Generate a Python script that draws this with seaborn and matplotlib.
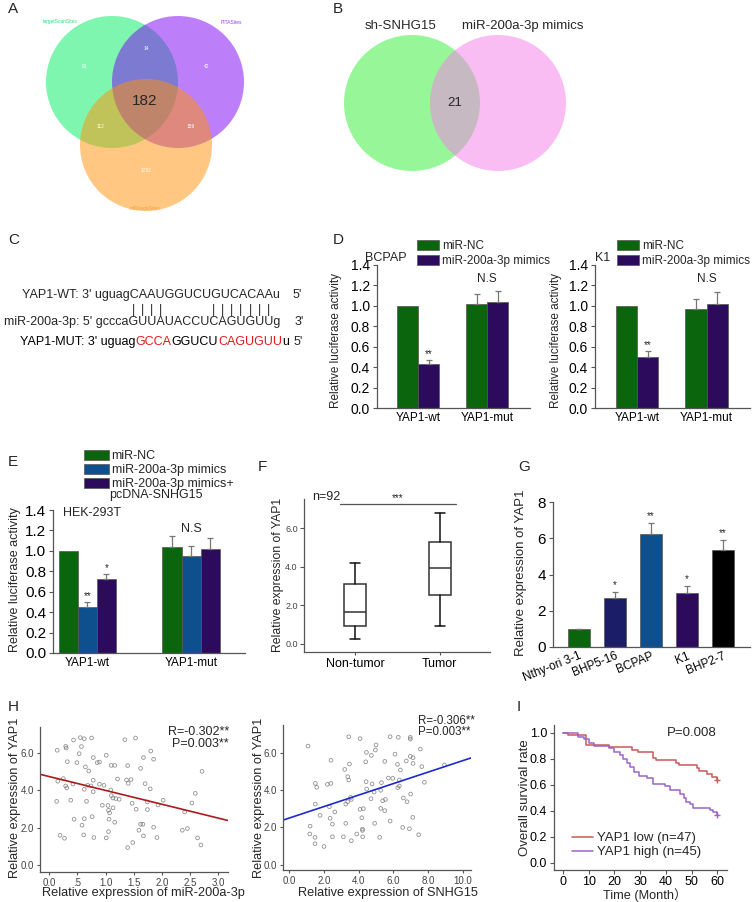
import numpy as np
import pandas as pd
import matplotlib
matplotlib.use("Agg")
import matplotlib.pyplot as plt
from matplotlib.patches import Circle, Patch
from matplotlib.lines import Line2D
import seaborn as sns

sns.set_theme(style="ticks")
plt.rcParams['font.family'] = ['Liberation Sans', 'Noto Sans CJK SC', 'DejaVu Sans']

W, H = 756, 902

# ---------------- data ----------------
# A: three-set venn (A only, B only, C only, AB, AC, BC, ABC)
venn_a_names = ["targetScanSites", "PITASites", "miRandaSites"]
venn_a_counts = [61, 42, 1252, 14, 112, 159, 182]
# B: two-set venn
venn_b_names = ["sh-SNHG15", "miR-200a-3p mimics"]
venn_b_overlap = 21

# C: binding sites
seq_wt = "YAP1-WT: 3' uguagCAAUGGUCUGUCACAAu"
seq_mir_prefix = "miR-200a-3p: 5' gccca"
seq_mir_core = "GUUAUACCUCAGUGUU"
seq_mir_suffix = "g"
seq_mut_parts = [("YAP1-MUT: 3' uguag", "black"), ("GCCA", "#e01b1b"), ("GGUCU", "black"),
                 ("CAGUGUU", "#e01b1b"), ("u", "black")]
pair_idx = [0, 1, 2, 3, 9, 10, 11, 12, 13, 14, 15]

# D: luciferase, BCPAP and K1
d_groups = ["YAP1-wt", "YAP1-mut"]
d_series = ["miR-NC", "miR-200a-3p mimics"]
d_bcpap_mean = [[1.0, 1.02], [0.43, 1.04]]
d_bcpap_err = [[0.0, 0.10], [0.04, 0.11]]
d_k1_mean = [[1.0, 0.97], [0.50, 1.02]]
d_k1_err = [[0.0, 0.10], [0.06, 0.12]]
d_stars = [["", ""], ["**", ""]]

# E: luciferase, HEK-293T
e_series = ["miR-NC", "miR-200a-3p mimics", "miR-200a-3p mimics+"]
e_series_extra = "pcDNA-SNHG15"
e_mean = [[1.0, 1.04], [0.45, 0.95], [0.72, 1.02]]
e_err = [[0.0, 0.11], [0.05, 0.10], [0.05, 0.11]]
e_stars = [["", ""], ["**", ""], ["*", ""]]

# F: box plot stats
f_groups = ["Non-tumor", "Tumor"]
f_whislo = [0.27, 0.94]
f_q1 = [0.92, 2.55]
f_med = [1.65, 3.97]
f_q3 = [3.12, 5.32]
f_whishi = [4.20, 6.80]

# G: cell lines
g_cells = ["Nthy-ori 3-1", "BHP5-16", "BCPAP", "K1", "BHP2-7"]
g_mean = [1.0, 2.72, 6.22, 3.00, 5.33]
g_err = [0.0, 0.32, 0.60, 0.36, 0.57]
g_stars = ["", "*", "**", "*", "**"]

# H: correlations
h1_mir = [0.14, 0.29, 0.30, 0.43, 0.55, 0.62, 0.75, 1.34, 1.53, 0.53, 0.57, 0.32, 0.49, 0.78, 1.01,
          0.85, 0.89, 0.64, 0.70, 1.10, 1.16, 1.39, 1.62, 1.67, 1.80, 1.85, 0.15, 0.25, 0.29, 0.31,
          0.42, 0.62, 0.68, 0.78, 0.78, 0.74, 0.89, 0.97, 1.09, 1.21, 1.37, 1.45, 1.40, 1.70, 1.79,
          2.71, 0.13, 0.38, 0.66, 0.94, 1.04, 1.10, 1.13, 1.18, 1.24, 1.13, 1.05, 1.07, 1.47, 1.54,
          1.74, 1.74, 1.93, 2.02, 2.40, 2.53, 2.59, 0.44, 0.62, 0.76, 0.58, 0.61, 0.79, 1.01, 1.06,
          1.16, 1.05, 0.19, 0.27, 1.39, 1.48, 1.62, 1.66, 1.59, 1.67, 1.85, 1.91, 2.36, 2.45, 2.63, 2.69]
h1_yap = [6.15, 6.36, 6.27, 6.70, 6.83, 6.77, 6.81, 6.72, 6.81, 5.97, 6.35, 5.54, 5.49, 5.76, 5.88,
          5.49, 5.52, 5.26, 5.04, 5.34, 5.34, 5.33, 5.18, 5.76, 6.11, 5.67, 4.49, 4.63, 4.24, 4.13,
          4.34, 4.06, 4.27, 4.54, 3.93, 4.24, 4.33, 4.27, 4.02, 4.61, 4.56, 4.58, 4.38, 4.36, 4.08,
          5.02, 3.41, 3.47, 3.41, 3.20, 3.19, 3.72, 3.59, 3.56, 3.52, 3.06, 2.93, 2.79, 3.31, 2.99,
          3.38, 2.97, 3.22, 3.47, 2.84, 3.32, 3.84, 2.45, 2.48, 2.59, 2.13, 1.61, 1.47, 1.45, 2.45,
          2.29, 1.79, 1.59, 1.43, 0.93, 1.20, 2.18, 2.18, 1.86, 1.56, 2.02, 1.47, 1.86, 1.95, 1.45, 1.07]
h2_snhg = [1.09, 3.43, 4.08, 5.00, 5.81, 6.28, 6.97, 6.97, 4.45, 4.73, 4.96, 2.41, 3.20, 3.47, 3.37,
           3.43, 4.41, 5.50, 6.09, 6.23, 6.40, 6.74, 6.97, 7.13, 7.13, 7.55, 7.63, 7.78, 8.93, 1.51,
           1.59, 2.20, 2.40, 1.51, 1.78, 2.32, 2.63, 2.36, 2.49, 1.21, 1.19, 1.49, 1.49, 2.01, 2.49,
           3.12, 3.26, 3.54, 3.58, 3.37, 3.26, 3.58, 3.89, 4.08, 4.27, 4.18, 4.22, 4.22, 4.23, 4.43,
           4.46, 4.71, 4.89, 4.77, 5.31, 5.27, 5.38, 5.54, 5.27, 5.50, 4.92, 5.21, 5.71, 5.96, 6.25,
           6.34, 6.34, 6.57, 6.78, 6.99, 7.11, 6.53, 6.92, 5.81, 7.45]
h2_yap = [6.35, 6.85, 6.75, 6.41, 6.85, 6.82, 6.82, 6.73, 6.01, 5.85, 6.14, 5.59, 5.10, 5.39, 4.71,
          4.53, 5.51, 5.53, 5.92, 5.37, 5.07, 5.55, 5.80, 5.42, 5.73, 6.19, 5.25, 4.41, 5.34, 4.35,
          4.14, 4.30, 4.35, 3.24, 2.64, 3.10, 2.82, 2.48, 2.17, 2.06, 1.64, 1.46, 1.12, 0.97, 1.49,
          1.49, 2.21, 3.60, 3.49, 3.37, 3.24, 1.28, 1.64, 2.96, 3.00, 2.51, 1.90, 1.83, 1.49, 4.44,
          4.05, 3.53, 3.89, 4.32, 4.39, 3.98, 3.42, 3.49, 3.01, 2.89, 2.21, 1.46, 4.64, 4.62, 4.12,
          4.21, 4.53, 3.57, 3.37, 3.78, 2.53, 1.99, 1.92, 2.33, 1.60]

# I: Kaplan-Meier
km_low_t = [0, 2, 9, 18, 27, 29, 35, 36, 44, 45, 52, 53, 56, 58, 60]
km_low_s = [1.0, 0.98, 0.91, 0.89, 0.87, 0.85, 0.81, 0.79, 0.77, 0.75, 0.73, 0.71, 0.68, 0.66, 0.64]
km_high_t = [0, 6, 8, 10, 12, 18, 20, 22, 23.5, 25, 26, 27.5, 29.5, 32.5, 35, 39.5, 41.5, 45.5,
             47, 48, 49.5, 50.5, 57, 58.5, 60]
km_high_s = [1.0, 0.97, 0.95, 0.92, 0.90, 0.88, 0.85, 0.83, 0.80, 0.77, 0.74, 0.70, 0.67, 0.65,
             0.61, 0.59, 0.56, 0.53, 0.50, 0.47, 0.45, 0.42, 0.41, 0.39, 0.37]

GREEN = "#0b650d"
PURPLE = "#2c0b5c"
BLUE = "#0e4f8e"
NAVY = "#1b1e66"
EDGE = "#555555"

fig = plt.figure(figsize=(W / 100, H / 100), dpi=100)
renderer = fig.canvas.get_renderer()


def axes_px(x0, y0, x1, y1):
    return fig.add_axes([x0 / W, 1 - y1 / H, (x1 - x0) / W, (y1 - y0) / H])


def text_px(x, y, s, **kw):
    kw.setdefault("va", "center")
    return fig.text(x / W, 1 - y / H, s, **kw)


def text_width(s, size):
    t = fig.text(0, 0, s, fontsize=size)
    w = t.get_window_extent(renderer).width
    t.remove()
    return w


def style_axis(ax, size, labelcolor="black"):
    sns.despine(ax=ax)
    for sp in ("left", "bottom"):
        ax.spines[sp].set_color(EDGE)
        ax.spines[sp].set_linewidth(0.9)
    ax.tick_params(labelsize=size, colors=EDGE, labelcolor=labelcolor, length=3, width=0.8, pad=2)
    ax.set_xlabel("")
    ax.set_ylabel("")


def grouped_bars(ax, groups, series, means, errs, stars, colors, width):
    df = pd.DataFrame({
        "group": [g for s in series for g in groups],
        "series": [s for s in series for g in groups],
        "value": [v for row in means for v in row],
    })
    sns.barplot(data=df, x="group", y="value", hue="series", palette=colors, width=width,
                saturation=1, errorbar=None, edgecolor=EDGE, linewidth=0.5, legend=False, ax=ax)
    for cont, m_row, e_row, s_row in zip(ax.containers, means, errs, stars):
        for bar, m, e, st in zip(cont, m_row, e_row, s_row):
            xc = bar.get_x() + bar.get_width() / 2
            if e > 0:
                ax.errorbar(xc, m, yerr=[[0], [e]], fmt="none", ecolor="#777777",
                            elinewidth=0.9, capsize=2.5, capthick=0.9)
            if st:
                ax.text(xc, m + e + 0.01, st, ha="center", va="bottom", fontsize=7)


# ---------------- panel labels ----------------
for lab, (x, y) in zip("ABCDEFGHI", [(8, 9), (333, 9), (8, 240), (333, 240), (8, 462),
                                       (258, 467), (518, 467), (8, 707), (517, 707)]):
    text_px(x, y, lab, fontsize=11, ha="left")

# ---------------- A ----------------
ax_a = axes_px(0, 0, 300, 230)
ax_a.set_xlim(0, 300)
ax_a.set_ylim(230, 0)
ax_a.set_axis_off()
for (cx, cy), col in zip([(112, 82), (178, 82), (146, 145)], ["#01ef63", "#7d00f5", "#ff9105"]):
    ax_a.add_patch(Circle((cx, cy), 66, color=col, alpha=0.5, lw=0))
for name, (x, y), col in zip(venn_a_names, [(60, 22), (231, 22), (145, 208)],
                             ["#2ee07a", "#9b3cf0", "#f0a040"]):
    ax_a.text(x, y, name, fontsize=3.5, color=col, ha="center", va="center")
for n, (x, y) in zip(venn_a_counts[:6], [(84, 66), (207, 66), (146, 170), (146, 49), (101, 127), (191, 127)]):
    ax_a.text(x, y, str(n), fontsize=3.5, color="white", ha="center", va="center")
ax_a.text(145, 101, str(venn_a_counts[6]), fontsize=11, ha="center", va="center")

# ---------------- B ----------------
ax_b = axes_px(330, 0, 630, 230)
ax_b.set_xlim(330, 630)
ax_b.set_ylim(230, 0)
ax_b.set_axis_off()
ax_b.add_patch(Circle((412, 103), 68, color="#31ef31", alpha=0.5, lw=0))
ax_b.add_patch(Circle((498, 103), 68, color="#f57deb", alpha=0.5, lw=0))
ax_b.text(401, 26, venn_b_names[0], fontsize=9.5, ha="center", va="center")
ax_b.text(523, 26, venn_b_names[1], fontsize=9.5, ha="center", va="center")
ax_b.text(455, 103, str(venn_b_overlap), fontsize=9.5, ha="center", va="center")

# ---------------- C ----------------
seq_size = 9.0
text_px(22, 295, seq_wt, fontsize=seq_size, ha="left")
text_px(293, 295, "5'", fontsize=seq_size, ha="left")
text_px(4, 322, seq_mir_prefix + seq_mir_core + seq_mir_suffix, fontsize=seq_size, ha="left")
text_px(295, 322, "3'", fontsize=seq_size, ha="left")
for i in pair_idx:
    w0 = text_width(seq_mir_prefix + seq_mir_core[:i], seq_size)
    w1 = text_width(seq_mir_prefix + seq_mir_core[:i + 1], seq_size)
    text_px(4 + (w0 + w1) / 2, 310, "|", fontsize=seq_size, ha="center")
xr = 20
for s, c in seq_mut_parts:
    t = text_px(xr, 342, s, fontsize=seq_size, ha="left", color=c)
    xr += t.get_window_extent(renderer).width
text_px(xr + 5, 342, "5'", fontsize=seq_size, ha="left")

# ---------------- D ----------------
for (x0, x1), mean, err, cell, cell_x, leg_x, ylab_x in [
        ((377, 530), d_bcpap_mean, d_bcpap_err, "BCPAP", 386, 417, 336),
        ((595, 750), d_k1_mean, d_k1_err, "K1", 603, 617, 556)]:
    ax = axes_px(x0, 265, x1, 408)
    grouped_bars(ax, d_groups, d_series, mean, err, d_stars, [GREEN, PURPLE], 0.61)
    ax.set_ylim(0, 1.4)
    ax.set_xlim(-0.6, 1.62)
    ax.set_yticks(np.arange(0, 1.41, 0.2))
    ax.set_yticklabels([f"{v:.1f}" for v in np.arange(0, 1.41, 0.2)])
    style_axis(ax, 10)
    ax.tick_params(axis="x", length=0, labelsize=8.5, pad=3)
    ax.text(1, 1.2, "N.S", ha="center", va="bottom", fontsize=8.5)
    text_px(cell_x, 258, cell, fontsize=9, ha="center")
    text_px(ylab_x, 340, "Relative luciferase activity", fontsize=8.5, rotation=90, ha="center")
    ax.legend(handles=[Patch(facecolor=c, edgecolor=EDGE, lw=0.5) for c in [GREEN, PURPLE]],
              labels=d_series, loc="upper left", bbox_to_anchor=(leg_x / W, 1 - 240 / H),
              bbox_transform=fig.transFigure, frameon=False, fontsize=8.5, borderpad=0,
              borderaxespad=0, handlelength=1.9, handleheight=0.9, handletextpad=0.2,
              labelspacing=0.25)

# ---------------- E ----------------
ax_e = axes_px(53, 510, 245, 653)
grouped_bars(ax_e, d_groups, e_series, e_mean, e_err, e_stars, [GREEN, BLUE, PURPLE], 0.55)
ax_e.set_ylim(0, 1.4)
ax_e.set_xlim(-0.33, 1.52)
ax_e.set_yticks(np.arange(0, 1.41, 0.2))
ax_e.set_yticklabels([f"{v:.1f}" for v in np.arange(0, 1.41, 0.2)])
style_axis(ax_e, 11)
ax_e.tick_params(axis="x", length=0, labelsize=8.5, pad=3)
ax_e.text(1, 1.16, "N.S", ha="center", va="bottom", fontsize=9)
text_px(63, 513, "HEK-293T", fontsize=9, ha="left")
text_px(15, 580, "Relative luciferase activity", fontsize=9, rotation=90, ha="center")
ax_e.legend(handles=[Patch(facecolor=c, edgecolor=EDGE, lw=0.5) for c in [GREEN, BLUE, PURPLE]],
            labels=e_series, loc="upper left", bbox_to_anchor=(84 / W, 1 - 450 / H),
            bbox_transform=fig.transFigure, frameon=False, fontsize=9, borderpad=0,
            borderaxespad=0, handlelength=2.0, handleheight=0.85, handletextpad=0.2,
            labelspacing=0.12)
text_px(109, 495, e_series_extra, fontsize=9, ha="left")

# ---------------- F ----------------
ax_f = axes_px(304, 499, 490, 652)
stats = [dict(med=m, q1=a, q3=b, whislo=lo, whishi=hi, fliers=[], label=g)
         for g, lo, a, m, b, hi in zip(f_groups, f_whislo, f_q1, f_med, f_q3, f_whishi)]
ax_f.bxp(stats, positions=[0, 1], widths=0.25, patch_artist=True, showfliers=False,
         boxprops=dict(facecolor="white", edgecolor="#333333", lw=1.1),
         medianprops=dict(color="#333333", lw=1.1),
         whiskerprops=dict(color="#111111", lw=1.1), capprops=dict(color="#111111", lw=1.1))
ax_f.set_xlim(-0.6, 1.59)
ax_f.set_ylim(-0.42, 7.53)
ax_f.set_yticks([0, 2, 4, 6])
ax_f.set_yticklabels(["0.0", "2.0", "4.0", "6.0"])
style_axis(ax_f, 6.5, labelcolor="#444444")
ax_f.tick_params(axis="y", pad=1.5)
ax_f.tick_params(axis="x", labelsize=9, labelcolor="black", length=2)
ax_f.plot([-0.18, 1.19], [7.27, 7.27], color="#555555", lw=0.9, clip_on=False)
ax_f.text(0.5, 7.3, "***", ha="center", va="bottom", fontsize=7)
text_px(312, 497, "n=92", fontsize=9, ha="left")
text_px(278, 575, "Relative expression of YAP1", fontsize=8.8, rotation=90, ha="center")

# ---------------- G ----------------
ax_g = axes_px(553, 502, 750, 647)
sns.barplot(x=g_cells, y=g_mean, hue=g_cells, palette=["#0b650d", NAVY, BLUE, PURPLE, "#000000"],
            width=0.6, saturation=1, errorbar=None, edgecolor=EDGE, linewidth=0.5,
            legend=False, ax=ax_g)
ax_g.errorbar(np.arange(len(g_cells)), g_mean, yerr=[np.zeros(len(g_err)), g_err], fmt="none",
              ecolor="#777777", elinewidth=0.9, capsize=2.5, capthick=0.9)
for i, (m, e, st) in enumerate(zip(g_mean, g_err, g_stars)):
    if st:
        ax_g.text(i, m + e + 0.1, st, ha="center", va="bottom", fontsize=7)
ax_g.set_ylim(0, 8)
ax_g.set_xlim(-0.72, 4.75)
ax_g.set_yticks([0, 2, 4, 6, 8])
style_axis(ax_g, 11)
ax_g.tick_params(axis="x", length=0, labelsize=8.5, pad=2)
plt.setp(ax_g.get_xticklabels(), rotation=22, ha="right", rotation_mode="anchor")
text_px(521, 573, "Relative expression of YAP1", fontsize=9.5, rotation=90, ha="center")

# ---------------- H ----------------
for (x0, y0, x1, y1), xs, ys, xlim, ylim, line_col, xt, xtl, xlab, xlab_x, ylab_x in [
        ((40, 727, 228, 872), h1_mir, h1_yap, (-0.165, 3.17), (-0.38, 7.4), "#a81c1c",
         [0, 0.5, 1, 1.5, 2, 2.5, 3], ["0.0", ".5", "1.0", "1.5", "2.0", "2.5", "3.0"],
         "Relative expression of miR-200a-3p", 143, 15),
        ((283, 725, 471, 870), h2_snhg, h2_yap, (-0.35, 10.46), (-0.29, 7.48), "#1c2ad0",
         [0, 2, 4, 6, 8, 10], ["0.0", "2.0", "4.0", "6.0", "8.0", "10.0"],
         "Relative expression of SNHG15", 388, 259)]:
    ax = axes_px(x0, y0, x1, y1)
    ax.set_xlim(*xlim)
    ax.set_ylim(*ylim)
    sns.regplot(x=xs, y=ys, ax=ax, ci=None, truncate=False, color="#777777",
                scatter_kws=dict(s=7, facecolors="none", edgecolors="#777777", linewidths=0.6),
                line_kws=dict(color=line_col, lw=1.2))
    ax.set_xticks(xt)
    ax.set_xticklabels(xtl)
    ax.set_yticks([0, 2, 4, 6])
    ax.set_yticklabels(["0.0", "2.0", "4.0", "6.0"])
    style_axis(ax, 7, labelcolor="#444444")
    ax.tick_params(length=2.5)
    text_px(xlab_x, 893, xlab, fontsize=9.2, ha="center")
    text_px(ylab_x, 798, "Relative expression of YAP1", fontsize=9.2, rotation=90, ha="center")

text_px(229, 732, "R=-0.302**", fontsize=9, ha="right")
text_px(229, 744, "P=0.003**", fontsize=9, ha="right")
text_px(418, 721, "R=-0.306**", fontsize=8.3, ha="left")
text_px(418, 732, "P=0.003**", fontsize=8.3, ha="left")

# ---------------- I ----------------
ax_i = axes_px(554, 725, 727, 870)
LOW_C, HIGH_C = "#c8585a", "#9b64c8"
ax_i.step(km_low_t, km_low_s, where="post", color=LOW_C, lw=1.1)
ax_i.step(km_high_t, km_high_s, where="post", color=HIGH_C, lw=1.1)
ax_i.plot(km_low_t[-1], km_low_s[-1], "+", color=LOW_C, ms=5, mew=1)
ax_i.plot(km_high_t[-1], km_high_s[-1], "+", color=HIGH_C, ms=5, mew=1)
ax_i.set_xlim(-3.5, 63.8)
ax_i.set_ylim(-0.054, 1.06)
ax_i.set_xticks(np.arange(0, 61, 10))
ax_i.set_yticks(np.arange(0, 1.01, 0.2))
ax_i.set_yticklabels([f"{v:.1f}" for v in np.arange(0, 1.01, 0.2)])
style_axis(ax_i, 9)
ax_i.tick_params(axis="x", pad=1.5)
ax_i.legend(handles=[Line2D([], [], color=LOW_C, lw=1.1), Line2D([], [], color=HIGH_C, lw=1.1)],
            labels=["YAP1 low (n=47)", "YAP1 high (n=45)"], loc="upper left",
            bbox_to_anchor=(572 / W, 1 - 832 / H), bbox_transform=fig.transFigure,
            frameon=False, fontsize=9.5, borderpad=0, borderaxespad=0, handlelength=1.6,
            handletextpad=0.3, labelspacing=0.15)
text_px(717, 733, "P=0.008", fontsize=9.5, ha="right")
text_px(645, 895, "Time (Month）", fontsize=9.2, ha="center")
text_px(525, 798, "Overall survival rate", fontsize=9.5, rotation=90, ha="center")

fig.savefig("out.png", dpi=100)
